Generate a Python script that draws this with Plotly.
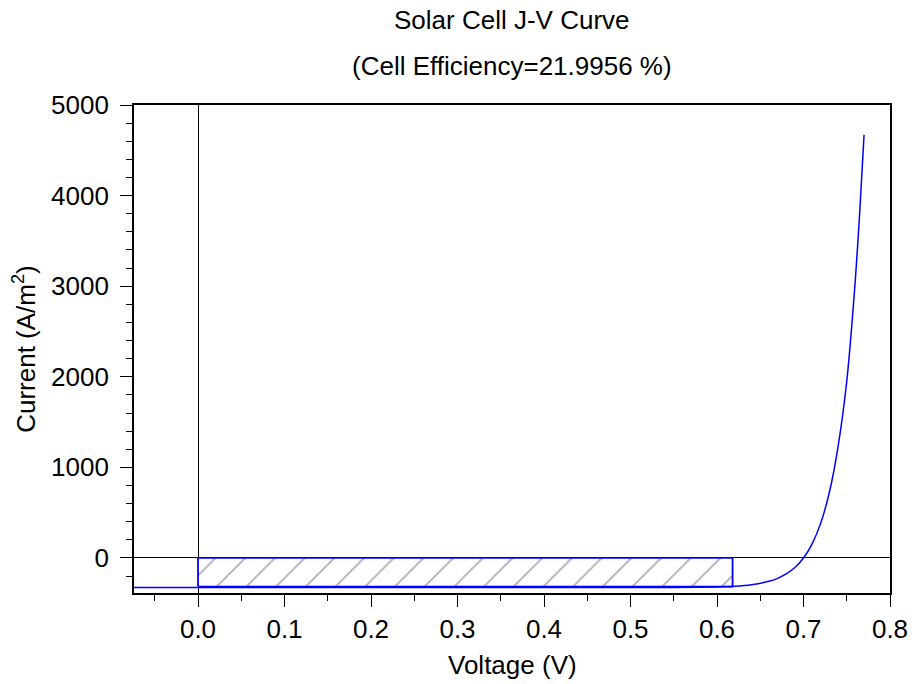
import plotly.graph_objects as go

# J-V curve
voltage = [-0.08, 0.0, 0.1, 0.2, 0.3, 0.4, 0.5, 0.55, 0.60, 0.62, 0.64, 0.66, 0.67, 0.68,
           0.69, 0.70, 0.71, 0.72, 0.73, 0.74, 0.75, 0.76, 0.765, 0.77]
current = [-327, -327, -327, -327, -327, -327, -326, -326, -320, -313, -296, -258, -225, -177,
           -106, 0, 156, 387, 728, 1232, 1950, 3081, 3816, 4670]

# maximum power point rectangle
v_mp = 0.618
j_mp = -316

title_lines = ["Solar Cell J-V Curve", "(Cell Efficiency=21.9956 %)"]
x_title = "Voltage (V)"
y_title = "Current (A/m<sup>2</sup>)"
x_ticks = [0.0, 0.1, 0.2, 0.3, 0.4, 0.5, 0.6, 0.7, 0.8]
x_ticklabels = ["0.0", "0.1", "0.2", "0.3", "0.4", "0.5", "0.6", "0.7", "0.8"]
y_ticks = [0, 1000, 2000, 3000, 4000, 5000]

FONT = "Liberation Sans, Arial, sans-serif"
FS = 26

fig = go.Figure()

# hatched max-power rectangle
fig.add_trace(go.Scatter(
    x=[0, v_mp, v_mp, 0, 0],
    y=[j_mp, j_mp, 0, 0, j_mp],
    mode="lines",
    fill="toself",
    fillcolor="white",
    fillpattern=dict(shape="/", fgcolor="#5a5a5a", bgcolor="white", size=21, solidity=0.08),
    line=dict(color="#0000ff", width=1.8),
    hoverinfo="skip",
    showlegend=False,
))

fig.add_trace(go.Scatter(
    x=voltage, y=current, mode="lines",
    line=dict(color="#0000ff", width=1.5, shape="spline", smoothing=0.6),
    showlegend=False,
))

axis_common = dict(
    showline=True, linecolor="black", linewidth=1.7, mirror=True,
    showgrid=False, zeroline=True, zerolinecolor="black", zerolinewidth=1.2,
    ticks="outside", ticklen=12, tickwidth=1.4, tickcolor="black",
    tickfont=dict(family=FONT, size=FS, color="black"),
    automargin=False,
)

fig.update_xaxes(
    **axis_common,
    range=[-0.074, 0.8],
    tickvals=x_ticks, ticktext=x_ticklabels,
    minor=dict(dtick=0.05, tick0=0, ticks="outside", ticklen=6, tickwidth=1.4, tickcolor="black", showgrid=False),
)
fig.update_yaxes(
    **axis_common,
    range=[-387, 5000],
    tickvals=y_ticks,
    ticklabelstandoff=6,
    minor=dict(dtick=200, tick0=0, ticks="outside", ticklen=6, tickwidth=1.4, tickcolor="black", showgrid=False),
    title=dict(text=y_title, font=dict(family=FONT, size=FS, color="black"), standoff=15),
)

fig.add_annotation(text=x_title, xref="paper", yref="paper", x=0.5, y=0.0,
                   yanchor="middle", yshift=-72, showarrow=False,
                   font=dict(family=FONT, size=FS, color="black"))
fig.add_annotation(text=title_lines[0], xref="paper", yref="paper", x=0.5, y=1.0,
                   yanchor="middle", yshift=85, showarrow=False,
                   font=dict(family=FONT, size=FS, color="black"))
fig.add_annotation(text=title_lines[1], xref="paper", yref="paper", x=0.5, y=1.0,
                   yanchor="middle", yshift=39, showarrow=False,
                   font=dict(family=FONT, size=FS, color="black"))

fig.update_layout(
    width=901, height=676,
    margin=dict(l=126, r=19, t=97, b=91, autoexpand=False),
    plot_bgcolor="white", paper_bgcolor="white",
    font=dict(family=FONT, size=FS, color="black"),
)

fig.write_html("out.html")
